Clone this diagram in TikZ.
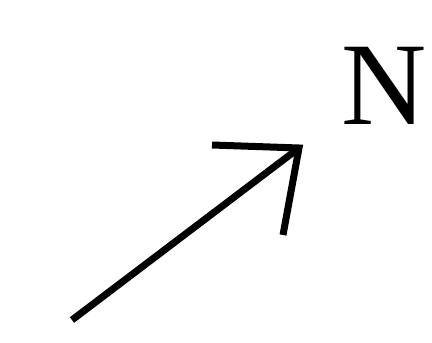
\documentclass[tikz,border=0pt]{standalone}
\usepackage{fontspec}
\setmainfont{Liberation Serif}

\begin{document}
\begin{tikzpicture}[x=1pt, y=-1pt, line join=miter]
  % Frame
  \useasboundingbox (0,0) rectangle (432,343);

  % Arrow
  \coordinate (tail) at (72,320);
  \coordinate (head) at (299,148);
  \coordinate (barbL) at (212,145);
  \coordinate (barbR) at (283,235);
  \draw[line width=7pt] (tail) -- (head);
  \draw[line width=7pt] (barbL) -- (head) -- (barbR);

  % North label
  \node[inner sep=0pt, font=\fontsize{118}{118}\selectfont] (north) at (384,86) {N};
\end{tikzpicture}
\end{document}
